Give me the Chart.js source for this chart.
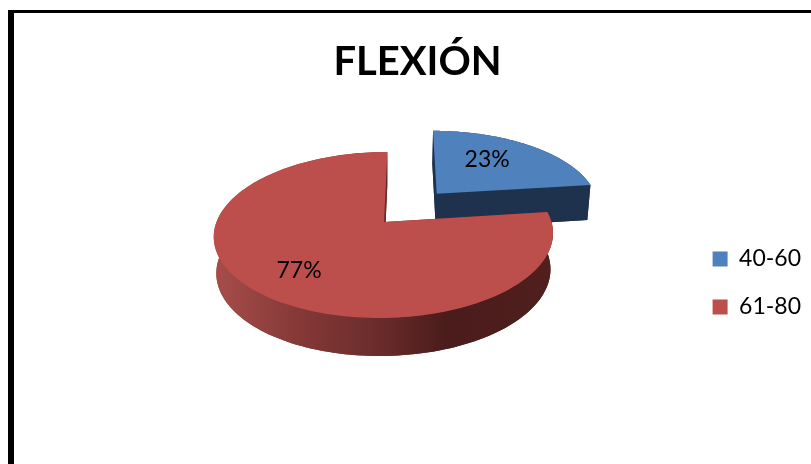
<!DOCTYPE html>
<html>
<head>
<meta charset="utf-8">
<style>
html,body{margin:0;padding:0;background:#fff;width:811px;height:464px;overflow:hidden}
#frame{position:absolute;left:8px;top:10px;right:0;bottom:0;border-left:6px solid #000;border-top:3px solid #000}
canvas{position:absolute;left:0;top:0}
</style>
</head>
<body>
<div id="frame"></div>
<canvas id="c" width="811" height="464"></canvas>
<script src="https://cdn.jsdelivr.net/npm/chart.js@4"></script>
<script>
const chartTitle = 'FLEXIÓN';
const categories = ['40-60', '61-80'];
const shares = [23, 77];
const faceColors = ['#4F81BD', '#BC4F4C'];
const wallColors = ['#1E324D', '#6B2B2A'];
const labelAnchors = [{r: 0.64, turn: -0.13}, {r: 0.7, turn: -0.02}];
const FONT = 'Lato, "Open Sans", sans-serif';

// Perspective view of the unit disc
const view = {x0: 384, y0: 222, ax: 167.5, ex: -64, by: 46.2, c: -0.1566};
function project(u, v) {
  const w = 1 + view.c * v;
  return {x: (view.x0 + view.ax * u + view.ex * v) / w, y: (view.y0 + view.by * v) / w};
}
function lower(p, v) {
  return {x: view.x0 + (p.x - view.x0) * 0.985, y: p.y + 36 + 2 * v};
}
function trace(ctx, pts) {
  ctx.beginPath();
  pts.forEach((p, i) => i ? ctx.lineTo(p.x, p.y) : ctx.moveTo(p.x, p.y));
  ctx.closePath();
}
function fillPts(ctx, pts, style) {
  trace(ctx, pts);
  ctx.fillStyle = style;
  ctx.fill();
}

const pie3d = {
  id: 'pie3d',
  beforeDatasetsDraw(chart) {
    const ctx = chart.ctx;
    const arcs = chart.getDatasetMeta(0).data;
    const pieces = arcs.map((arc, i) => {
      const R = arc.outerRadius;
      const mid = (arc.startAngle + arc.endAngle) / 2;
      const d = arc.options.offset / R;
      const ox = Math.cos(mid) * d, oy = Math.sin(mid) * d;
      const model = (a, r) => ({u: ox + Math.cos(a) * r, v: oy + Math.sin(a) * r});
      const rim = [];
      const n = 160;
      for (let k = 0; k <= n; k++) {
        rim.push(model(arc.startAngle + (arc.endAngle - arc.startAngle) * k / n, 1));
      }
      return {arc, i, mid, model, rim};
    });
    ctx.save();
    pieces.forEach(({i, model, rim}) => {
      const apex = model(0, 0);
      const top = m => project(m.u, m.v);
      const bot = m => lower(top(m), m.v);
      let wall = wallColors[i];
      if (i === 1) {
        const g = ctx.createLinearGradient(215, 0, 553, 0);
        g.addColorStop(0, '#A64D4A');
        g.addColorStop(0.25, '#843937');
        g.addColorStop(0.5, '#682B2A');
        g.addColorStop(0.68, '#4A1C1B');
        g.addColorStop(1, '#501F1E');
        wall = g;
      }
      // bottom face and side walls
      fillPts(ctx, [bot(apex), ...rim.map(bot)], wall);
      [rim[0], rim[rim.length - 1]].forEach(edge => {
        fillPts(ctx, [top(apex), top(edge), bot(edge), bot(apex)], wallColors[i]);
      });
      const outer = rim.map(top).concat(rim.map(bot).reverse());
      fillPts(ctx, outer, wall);
      // top face
      fillPts(ctx, [top(apex), ...rim.map(top)], faceColors[i]);
    });
    // value labels
    ctx.font = '23px ' + FONT;
    ctx.fillStyle = '#000';
    ctx.textAlign = 'center';
    ctx.textBaseline = 'middle';
    pieces.forEach(({i, mid, model}) => {
      const a = labelAnchors[i];
      const m = model(mid + a.turn, a.r);
      const p = project(m.u, m.v);
      ctx.fillText(shares[i] + '%', p.x, p.y + 1);
    });
    ctx.restore();
    return false;
  }
};

new Chart(document.getElementById('c'), {
  type: 'pie',
  data: {
    labels: categories,
    datasets: [{
      data: shares,
      backgroundColor: faceColors,
      borderWidth: 0,
      offset: [49, 0],
      radius: 100
    }]
  },
  plugins: [pie3d],
  options: {
    responsive: false,
    animation: false,
    layout: {padding: {left: 24, right: 0, top: 0, bottom: 0}},
    plugins: {
      title: {
        display: true,
        text: chartTitle,
        color: '#000',
        font: {family: FONT, size: 40, weight: 'bold'},
        padding: {top: 38, bottom: 16}
      },
      legend: {
        position: 'right',
        fullSize: false,
        labels: {
          color: '#000',
          font: {family: FONT, size: 23},
          boxWidth: 15,
          boxHeight: 15,
          padding: 25
        }
      },
      tooltip: {enabled: false}
    }
  }
});
</script>
</body>
</html>
